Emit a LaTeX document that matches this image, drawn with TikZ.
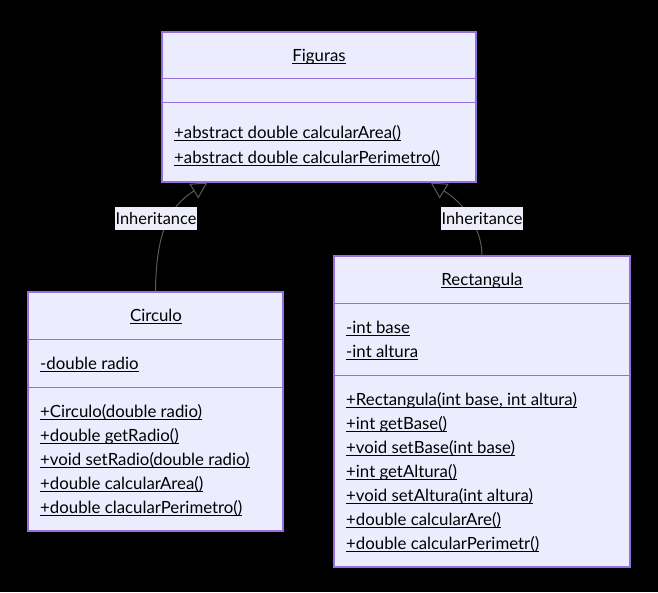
\documentclass[tikz,border=0pt]{standalone}
\usepackage{fontspec}
\setmainfont{Lato}
\usetikzlibrary{positioning,arrows.meta}
\definecolor{boxfill}{HTML}{ECECFF}
\definecolor{boxline}{HTML}{9370DB}
\definecolor{edgegray}{HTML}{595959}
\definecolor{labelfill}{HTML}{EEEEFA}
\newcommand{\undl}[1]{\setbox0\hbox{#1}\rlap{\rule[-2.6pt]{\wd0}{0.9pt}}\box0}
\tikzset{
  classbox/.style={draw=boxline, fill=boxfill, line width=1.3pt, inner sep=0pt},
  divider/.style={draw=boxline, line width=1.3pt},
  member/.style={inner sep=0pt, anchor=base west, font=\fontsize{16.8pt}{19pt}\selectfont},
  title/.style={member, anchor=base},
  inherit/.style={draw=edgegray, line width=1pt, -{Triangle[open, length=16pt, width=17pt]}},
  inhlabel/.style={fill=labelfill, inner sep=0pt, minimum width=82pt, minimum height=23pt,
    font=\fontsize{16.4pt}{19pt}\selectfont}
}

\begin{document}
\begin{tikzpicture}[x=1pt, y=-1pt]
      \fill[black] (0,0) rectangle (658,592);
      \useasboundingbox (0,0) rectangle (658,592);

      \node(fig) [classbox, minimum width=314pt, minimum height=150pt] at (319,107) {};
      \node(circ) [classbox, minimum width=255pt, minimum height=239pt] at (155.5,411.5) {};
      \node(rect) [classbox, minimum width=296pt, minimum height=311pt] at (482,411.5) {};

      \draw[divider] ([yshift=-47pt]fig.north west) -- ([yshift=-47pt]fig.north east);
      \draw[divider] ([yshift=-71pt]fig.north west) -- ([yshift=-71pt]fig.north east);
      \draw[divider] ([yshift=-48pt]circ.north west) -- ([yshift=-48pt]circ.north east);
      \draw[divider] ([yshift=-96pt]circ.north west) -- ([yshift=-96pt]circ.north east);
      \draw[divider] ([yshift=-48pt]rect.north west) -- ([yshift=-48pt]rect.north east);
      \draw[divider] ([yshift=-120pt]rect.north west) -- ([yshift=-120pt]rect.north east);

      \node(figt) [title] at (319,61) {\undl{Figuras}};
      \node(figm1) [member] at (174,138) {\undl{+abstract double calcularArea()}};
      \node(figm2) [member, below=25pt of figm1.base west, anchor=base west] {\undl{+abstract double calcularPerimetro()}};

      \node(circt) [title] at (156,321) {\undl{Circulo}};
      \node(circa1) [member] at (40,369) {\undl{-double radio}};
      \node(circm1) [member, below=48pt of circa1.base west, anchor=base west] {\undl{+Circulo(double radio)}};
      \node(circm2) [member, below=24pt of circm1.base west, anchor=base west] {\undl{+double getRadio()}};
      \node(circm3) [member, below=24pt of circm2.base west, anchor=base west] {\undl{+void setRadio(double radio)}};
      \node(circm4) [member, below=24pt of circm3.base west, anchor=base west] {\undl{+double calcularArea()}};
      \node(circm5) [member, below=24pt of circm4.base west, anchor=base west] {\undl{+double clacularPerimetro()}};

      \node(rectt) [title] at (482,285) {\undl{Rectangula}};
      \node(recta1) [member] at (346,333) {\undl{-int base}};
      \node(recta2) [member, below=24pt of recta1.base west, anchor=base west] {\undl{-int altura}};
      \node(rectm1) [member, below=48pt of recta2.base west, anchor=base west] {\undl{+Rectangula(int base, int altura)}};
      \node(rectm2) [member, below=24pt of rectm1.base west, anchor=base west] {\undl{+int getBase()}};
      \node(rectm3) [member, below=24pt of rectm2.base west, anchor=base west] {\undl{+void setBase(int base)}};
      \node(rectm4) [member, below=24pt of rectm3.base west, anchor=base west] {\undl{+int getAltura()}};
      \node(rectm5) [member, below=24pt of rectm4.base west, anchor=base west] {\undl{+void setAltura(int altura)}};
      \node(rectm6) [member, below=24pt of rectm5.base west, anchor=base west] {\undl{+double calcularAre()}};
      \node(rectm7) [member, below=24pt of rectm6.base west, anchor=base west] {\undl{+double calcularPerimetr()}};

      \coordinate(figL) at ([xshift=46pt]fig.south west);
      \coordinate(figR) at ([xshift=-46pt]fig.south east);

      \draw[inherit] (circ.north) .. controls (156,235) and (168,207) .. (figL);
      \draw[inherit] (rect.north) .. controls (482,235) and (470,207) .. (figR);

      \node(inhL) [inhlabel] at (156,218.5) {Inheritance};
      \node(inhR) [inhlabel] at (482,218.5) {Inheritance};
    \end{tikzpicture}
\end{document}
